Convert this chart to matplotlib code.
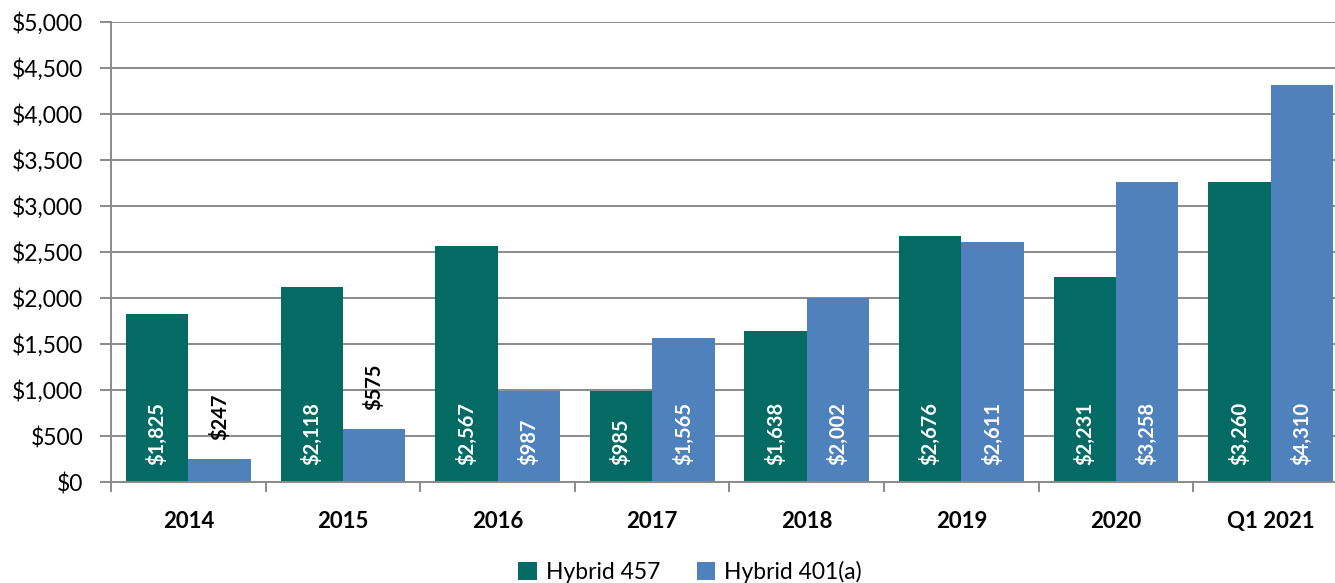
import matplotlib
matplotlib.use("Agg")
import matplotlib.pyplot as plt
from matplotlib.patches import Patch
import numpy as np

categories = ["2014", "2015", "2016", "2017", "2018", "2019", "2020", "Q1 2021"]
hybrid_457 = [1825, 2118, 2567, 985, 1638, 2676, 2231, 3260]
hybrid_401a = [247, 575, 987, 1565, 2002, 2611, 3258, 4310]
series_names = ["Hybrid 457", "Hybrid 401(a)"]
y_ticks = [0, 500, 1000, 1500, 2000, 2500, 3000, 3500, 4000, 4500, 5000]

GREEN = "#036b64"
BLUE = "#4f81bd"
GRID = "#8a8a8a"

plt.rcParams["font.family"] = ["Lato", "DejaVu Sans"]

fig = plt.figure(figsize=(13.35, 5.83), dpi=100)
ax = fig.add_axes([111 / 1335, 1 - 482 / 583, (1348 - 111) / 1335, (482 - 22) / 583])

x = np.arange(len(categories))
w = 0.403
b1 = ax.bar(x - w / 2, hybrid_457, w, color=GREEN, zorder=3)
b2 = ax.bar(x + w / 2, hybrid_401a, w, color=BLUE, zorder=3)

ax.set_xlim(-0.5, len(categories) - 0.5)
ax.set_ylim(0, 5000)
ax.set_yticks(y_ticks)
ax.set_yticklabels([f"${v:,}" for v in y_ticks], fontsize=16.5)
ax.yaxis.grid(True, color=GRID, linewidth=1.4, zorder=0)
ax.set_axisbelow(True)

# category labels centred, tick marks on the category boundaries
ax.set_xticks(x)
ax.set_xticklabels(categories, fontsize=16, fontweight="bold")
ax.tick_params(axis="x", length=0, pad=21)
ax.set_xticks(np.arange(len(categories) + 1) - 0.5, minor=True)
ax.tick_params(axis="x", which="minor", length=7, width=1.4, color=GRID)
ax.tick_params(axis="y", length=8, width=1.4, color=GRID, pad=12)

for s in ["top", "right"]:
    ax.spines[s].set_visible(False)
for s in ["left", "bottom"]:
    ax.spines[s].set_color(GRID)
    ax.spines[s].set_linewidth(1.4)
ax.spines["bottom"].set_zorder(4)

small = 700
for bars, vals in ((b1, hybrid_457), (b2, hybrid_401a)):
    for rect, v in zip(bars, vals):
        cx = rect.get_x() + rect.get_width() / 2
        text = f"${v:,}"
        if v < small:
            ax.annotate(text, xy=(cx, v), xytext=(0, 14), textcoords="offset points",
                        rotation=90, ha="center", va="bottom", fontsize=14.5,
                        fontweight="bold", color="black", zorder=5)
        else:
            ax.annotate(text, xy=(cx, 0), xytext=(0, 12), textcoords="offset points",
                        rotation=90, ha="center", va="bottom", fontsize=14.5,
                        fontweight="bold", color="white", zorder=5)

handles = [Patch(facecolor=GREEN), Patch(facecolor=BLUE)]
fig.legend(handles, series_names, loc="center", bbox_to_anchor=(690 / 1335, 1 - 572 / 583),
           ncol=2, frameon=False, fontsize=16.5, handlelength=0.8, handleheight=0.8,
           handletextpad=0.4, columnspacing=1.6)

fig.savefig("out.png", dpi=100)
